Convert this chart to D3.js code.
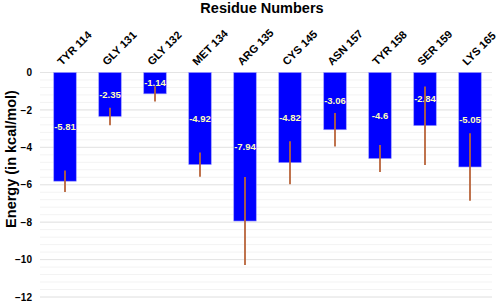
<!DOCTYPE html>
<html>
<head>
<meta charset="utf-8">
<script src="https://cdn.jsdelivr.net/npm/d3@7"></script>
<style>
  body { margin: 0; background: #fff; }
  text { font-family: "Liberation Sans", Arial, sans-serif; font-weight: bold; }
</style>
</head>
<body>
<div id="chart"></div>
<script>
const residues = ["TYR 114", "GLY 131", "GLY 132", "MET 134", "ARG 135", "CYS 145", "ASN 157", "TYR 158", "SER 159", "LYS 165"];
const energies = [-5.81, -2.35, -1.14, -4.92, -7.94, -4.82, -3.06, -4.6, -2.84, -5.05];
const errors = [0.53, 0.42, 0.36, 0.6, 2.3, 1.1, 0.85, 0.67, 2.05, 1.76];
const yTicks = [0, -2, -4, -6, -8, -10, -12];

const width = 498, height = 307;
const svg = d3.select("#chart").append("svg")
    .attr("width", width).attr("height", height);

const x = d3.scaleBand().domain(residues).range([42.5, 492.5])
    .paddingInner(0.5).paddingOuter(0.25);
const y = d3.scaleLinear().domain([-12, 0]).range([297, 72.5]);

// minor grid
const minor = d3.range(-12, 0.001, 0.4);
svg.append("g").selectAll("line").data(minor).enter().append("line")
    .attr("x1", 40).attr("x2", 492)
    .attr("y1", d => y(d)).attr("y2", d => y(d))
    .attr("stroke", "#f3f3f3").attr("stroke-width", 1);

// major grid
svg.append("g").selectAll("line").data(yTicks).enter().append("line")
    .attr("x1", 40).attr("x2", 492)
    .attr("y1", d => y(d)).attr("y2", d => y(d))
    .attr("stroke", "#e4e4e4").attr("stroke-width", 1);

// y axis labels
const yAxis = svg.append("g").attr("transform", "translate(36,0)")
    .call(d3.axisLeft(y).tickValues(yTicks).tickSize(0).tickPadding(4));
yAxis.select(".domain").remove();
yAxis.selectAll("text").style("font-size", "10px").attr("fill", "#000");

// bars
const data = residues.map((r, i) => ({ r, v: energies[i], e: errors[i] }));
svg.append("g").selectAll("rect").data(data).enter().append("rect")
    .attr("x", d => x(d.r))
    .attr("width", x.bandwidth())
    .attr("y", y(0))
    .attr("height", d => y(d.v) - y(0))
    .attr("fill", "#0000ff")
    .attr("stroke", "#9999ff").attr("stroke-width", 0.6);

// value labels
svg.append("g").selectAll("text").data(data).enter().append("text")
    .attr("x", d => x(d.r) + x.bandwidth() / 2)
    .attr("y", d => (y(0) + y(d.v)) / 2)
    .attr("dy", "0.35em")
    .attr("text-anchor", "middle")
    .attr("fill", "#ffffb8")
    .style("font-size", "9.5px")
    .text(d => d.v);

// error bars
svg.append("g").selectAll("line").data(data).enter().append("line")
    .attr("x1", d => x(d.r) + x.bandwidth() / 2)
    .attr("x2", d => x(d.r) + x.bandwidth() / 2)
    .attr("y1", d => y(d.v + d.e))
    .attr("y2", d => y(d.v - d.e))
    .attr("stroke", "#b8643a").attr("stroke-width", 1.8)
    .attr("stroke-linecap", "square");

// category labels, rotated
svg.append("g").selectAll("text").data(residues).enter().append("text")
    .attr("transform", d => `translate(${x(d) + x.bandwidth() / 2 - 3},66) rotate(-45)`)
    .attr("text-anchor", "start")
    .style("font-size", "11px")
    .text(d => d);

// titles
svg.append("text")
    .attr("x", 262).attr("y", 13)
    .attr("text-anchor", "middle")
    .style("font-size", "14.5px")
    .text("Residue Numbers");

svg.append("text")
    .attr("transform", "translate(16,159) rotate(-90)")
    .attr("text-anchor", "middle")
    .style("font-size", "14.5px")
    .text("Energy (in kcal/mol)");
</script>
</body>
</html>
